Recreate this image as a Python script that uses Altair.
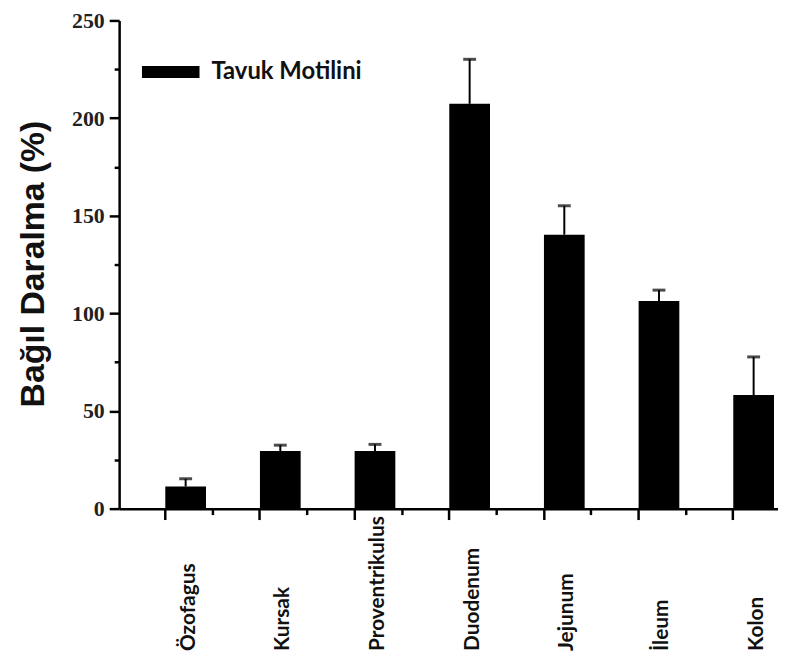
import altair as alt
import pandas as pd

# Data
kategoriler = ["Özofagus", "Kursak", "Proventrikulus", "Duodenum", "Jejunum", "İleum", "Kolon"]
ortalama = [11.3, 29.5, 29.5, 207.3, 140.3, 106.3, 58.2]
hata = [4.0, 3.0, 3.4, 22.8, 14.8, 5.6, 19.5]
grup = "Tavuk Motilini"
y_ana = [0, 50, 100, 150, 200, 250]
y_ara = [25, 75, 125, 175, 225]

df = pd.DataFrame({
    "kategori": kategoriler,
    "ortalama": ortalama,
    "hata": hata,
    "grup": [grup] * len(kategoriler),
})
df["ust"] = df["ortalama"] + df["hata"]

xscale = alt.Scale(paddingInner=0.57, paddingOuter=0.265, align=0.92)
yscale = alt.Scale(domain=[0, 250], nice=False, zero=True)

x_main_axis = alt.Axis(
    orient="bottom", title=None, bandPosition=0, labelOffset=3,
    labelAngle=-90, labelAlign="left", labelBaseline="middle", labelPadding=132,
    labelFont="Lato", labelFontWeight="bold", labelFontSize=21, labelColor="#111",
    labelOverlap=False, labelLimit=400,
    tickSize=11, tickWidth=2.5, tickColor="black",
    domainColor="black", domainWidth=2.5, grid=False,
)
x_minor_axis = alt.Axis(
    orient="bottom", title=None, bandPosition=1.163, labels=False, domain=False,
    tickSize=6, tickWidth=2.5, tickColor="black", grid=False,
)
y_main_axis = alt.Axis(
    orient="left", values=y_ana, title="Bağıl Daralma (%)",
    titleFont="Liberation Sans", titleFontSize=34, titleFontWeight="bold", titleColor="#111",
    titleX=-86, titleY=245, titleAngle=270, titleAlign="center", titleBaseline="middle",
    labelFont="Liberation Serif", labelFontWeight="bold", labelFontSize=22, labelColor="#222",
    labelPadding=5, tickSize=10, tickWidth=2.5, tickColor="black",
    domainColor="black", domainWidth=2.5, grid=False,
)
y_minor_axis = alt.Axis(
    orient="left", values=y_ara, title=None, labels=False, domain=False,
    tickSize=5, tickWidth=2.5, tickColor="black", grid=False,
)

base = alt.Chart(df)

bars = base.mark_bar().encode(
    x=alt.X("kategori:N", sort=kategoriler, scale=xscale, axis=x_main_axis),
    y=alt.Y("ortalama:Q", scale=yscale, axis=y_main_axis),
    color=alt.Color(
        "grup:N",
        scale=alt.Scale(range=["#000000"]),
        legend=alt.Legend(
            title=None, orient="none", legendX=23, legendY=23, padding=0,
            symbolType="M-1,-0.207H1V0.207H-1Z", symbolSize=3364, symbolStrokeWidth=0,
            symbolOpacity=1,
            labelFont="Lato", labelFontWeight="bold", labelFontSize=24, labelColor="#111",
            labelOffset=12, labelLimit=400,
        ),
    ),
)

rules = base.mark_rule(color="black", strokeWidth=2).encode(
    x=alt.X("kategori:N", sort=kategoriler, scale=xscale, axis=None),
    y=alt.Y("ortalama:Q", scale=yscale, axis=None),
    y2="ust:Q",
)

caps = base.mark_tick(color="black", thickness=3, size=13, orient="horizontal").encode(
    x=alt.X("kategori:N", sort=kategoriler, scale=xscale, axis=x_minor_axis),
    y=alt.Y("ust:Q", scale=yscale, axis=y_minor_axis),
)

chart = (
    alt.layer(bars, rules, caps)
    .resolve_axis(x="independent", y="independent")
    .properties(
        width=664, height=492,
        autosize=alt.AutoSizeParams(type="none"),
        padding={"left": 112, "top": 10, "right": 0, "bottom": 150},
        background="white",
    )
    .configure_view(stroke=None)
)

chart.save("out.html", embed_options={"renderer": "svg", "actions": False})
